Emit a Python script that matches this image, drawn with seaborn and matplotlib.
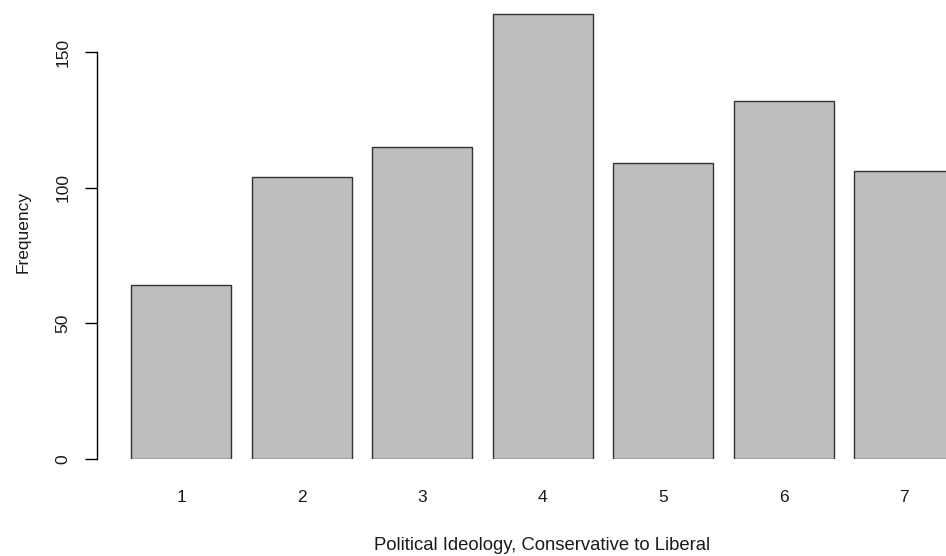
import matplotlib
matplotlib.use("Agg")
import matplotlib.pyplot as plt
import seaborn as sns
import pandas as pd

# --- data ---
ideology = ["1", "2", "3", "4", "5", "6", "7"]
frequency = [64, 104, 115, 164, 109, 132, 106]
y_ticks = [0, 50, 100, 150]

df = pd.DataFrame({"ideology": ideology, "frequency": frequency})

sns.set_style("white")
plt.rcParams["font.family"] = ["Liberation Sans", "DejaVu Sans"]
plt.rcParams["text.color"] = "#1a1a1a"
plt.rcParams["axes.labelcolor"] = "#1a1a1a"
plt.rcParams["xtick.color"] = "#1a1a1a"
plt.rcParams["ytick.color"] = "#1a1a1a"

W, H = 946, 556
fig = plt.figure(figsize=(W / 100, H / 100), dpi=100)
# axes box in pixels: left spine at x=97, zero line at y=459
ax = fig.add_axes([97 / W, (H - 459) / H, 1 - 97 / W, (459 - 5) / H])

sns.barplot(data=df, x="ideology", y="frequency", color="#BEBEBE",
            saturation=1, edgecolor="#333333", linewidth=1,
            width=100 / 120.5, ax=ax)

px_per_unit = (459 - 52) / 150
ax.set_ylim(0, (459 - 5) / px_per_unit)
ax.set_xlim((97 - 181) / 120.5, (946 - 181) / 120.5)

for s in ["top", "right", "bottom"]:
    ax.spines[s].set_visible(False)
ax.spines["left"].set_bounds(0, 150)
ax.spines["left"].set_color("black")
ax.spines["left"].set_linewidth(1)

ax.set_yticks(y_ticks)
ax.set_yticklabels([str(v) for v in y_ticks], rotation=90, va="center")
ax.tick_params(axis="y", length=8.3, width=1, color="black", pad=11,
               labelsize=12.5, left=True, direction="out")
ax.tick_params(axis="x", length=0, pad=22, labelsize=12.5)

ax.set_xlabel("Political Ideology, Conservative to Liberal", fontsize=13.3)
ax.xaxis.set_label_coords((542 - 97) / (W - 97), -(545 - 459) / (459 - 5),
                          transform=ax.transAxes)
ax.xaxis.label.set_va("center")
ax.set_ylabel("Frequency", fontsize=12.5, labelpad=18)

fig.savefig("out.png", dpi=100)
